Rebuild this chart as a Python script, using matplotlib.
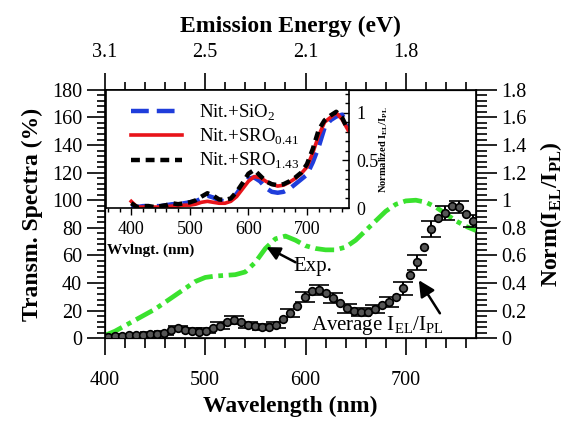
import matplotlib.pyplot as plt
from matplotlib.ticker import MultipleLocator

plt.rcParams['font.family'] = ['Liberation Serif', 'DejaVu Serif']
plt.rcParams['mathtext.fontset'] = 'custom'
plt.rcParams['mathtext.rm'] = 'Liberation Serif'
plt.rcParams['mathtext.bf'] = 'Liberation Serif:bold'

# transmission spectrum (left axis, %)
wl_exp = [400, 410, 420, 430, 440, 450, 460, 470, 480, 490, 500, 510, 520, 530, 540, 550, 560, 570, 580,
          590, 600, 610, 620, 630, 640, 650, 660, 670, 680, 690, 700, 710, 720, 730, 740, 750, 760, 770]
trans_exp = [2, 5, 9, 13, 17, 21, 26, 31, 36, 41, 44, 45, 45.5, 46, 48, 55, 65, 72, 74,
             71, 67, 65, 64, 64, 66, 71, 78, 85, 92, 97, 99.5, 100, 98.5, 95, 90, 85, 81, 78]

# average EL/PL ratio (right axis)
wl_el = [403, 410, 417, 424, 431, 438, 445, 452, 459, 466, 473, 480, 487, 494, 501, 508, 515, 522,
         529, 536, 543, 550, 557, 564, 571, 578, 585, 592, 599, 606, 613, 620, 627, 634, 641, 648,
         655, 662, 669, 676, 683, 690, 697, 704, 711, 718, 725, 732, 739, 746, 753, 760, 767]
ratio_el = [0.01, 0.015, 0.018, 0.02, 0.022, 0.025, 0.03, 0.033, 0.04, 0.06, 0.07, 0.062, 0.055, 0.047,
            0.055, 0.075, 0.09, 0.115, 0.13, 0.12, 0.095, 0.085, 0.08, 0.082, 0.095, 0.14, 0.18, 0.235,
            0.30, 0.345, 0.35, 0.33, 0.29, 0.255, 0.215, 0.195, 0.19, 0.19, 0.21, 0.24, 0.26, 0.30,
            0.36, 0.46, 0.55, 0.66, 0.79, 0.87, 0.91, 0.955, 0.95, 0.90, 0.85]
ratio_err = [0.01, 0.01, 0.01, 0.01, 0.01, 0.01, 0.012, 0.012, 0.015, 0.015, 0.02, 0.02, 0.02, 0.02,
             0.02, 0.02, 0.025, 0.025, 0.03, 0.03, 0.025, 0.02, 0.02, 0.02, 0.02, 0.025, 0.03, 0.03,
             0.035, 0.035, 0.035, 0.035, 0.035, 0.03, 0.03, 0.03, 0.03, 0.03, 0.03, 0.035, 0.035, 0.04,
             0.045, 0.05, 0.055, 0.06, 0.06, 0.055, 0.05, 0.045, 0.045, 0.045, 0.045]

# inset: normalized EL/PL for each sample
wl_in = [400, 410, 420, 430, 440, 450, 460, 470, 480, 490, 500, 510, 520, 530, 540, 550, 560, 570, 580,
         590, 600, 610, 620, 630, 640, 650, 660, 670, 680, 690, 700, 710, 720, 730, 740, 750, 760, 770]
norm_sio2 = [0.02, 0.01, 0.02, 0.02, 0.02, 0.02, 0.03, 0.04, 0.04, 0.05, 0.06, 0.07, 0.10, 0.13, 0.11,
             0.08, 0.07, 0.09, 0.15, 0.24, 0.31, 0.32, 0.28, 0.21, 0.17, 0.16, 0.17, 0.20, 0.25, 0.30,
             0.35, 0.48, 0.64, 0.84, 0.92, 0.96, 0.98, 0.85]
norm_sro041 = [0.07, 0.01, 0.01, 0.01, 0.01, 0.01, 0.015, 0.02, 0.02, 0.03, 0.03, 0.04, 0.06, 0.07, 0.06,
               0.05, 0.05, 0.07, 0.12, 0.20, 0.28, 0.33, 0.32, 0.28, 0.25, 0.23, 0.24, 0.27, 0.31, 0.36,
               0.43, 0.58, 0.76, 0.90, 0.95, 1.00, 0.93, 0.82]
norm_sro143 = [0.05, 0.01, 0.02, 0.02, 0.01, 0.02, 0.03, 0.05, 0.04, 0.05, 0.06, 0.08, 0.12, 0.155, 0.13,
               0.09, 0.085, 0.10, 0.17, 0.26, 0.36, 0.40, 0.34, 0.28, 0.25, 0.24, 0.25, 0.28, 0.32, 0.37,
               0.46, 0.62, 0.82, 0.92, 0.97, 1.01, 0.95, 0.82]

top_ticks = [400, 500, 600, 700]
top_labels = ['3.1', '2.5', '2.1', '1.8']

fig = plt.figure(figsize=(5.64, 4.28), dpi=100)
ax = fig.add_axes([0.186, 0.210, 0.658, 0.580])
ax.plot(wl_exp, trans_exp, color='#3ae22e', lw=3.4, linestyle=(0, (4, 1.2, 1, 1.2)), zorder=3)
ax.set_xlim(400, 770)
ax.set_ylim(0, 180)
ax.yaxis.set_major_locator(MultipleLocator(20))
ax.yaxis.set_minor_locator(MultipleLocator(4))
ax.xaxis.set_major_locator(MultipleLocator(100))
ax.xaxis.set_minor_locator(MultipleLocator(20))
ax.tick_params(which='major', direction='out', length=13, width=1.2, labelsize=14.5)
ax.tick_params(which='minor', direction='out', length=6, width=1.2)
ax.tick_params(axis='x', which='major', length=12, pad=12)
ax.tick_params(axis='x', which='minor', length=7)
ax.set_xlabel('Wavelength (nm)', fontsize=17, fontweight='bold', labelpad=4)
ax.set_ylabel('Transm. Spectra (%)', fontsize=17, fontweight='bold', labelpad=6)
for s in ax.spines.values():
    s.set_linewidth(1.2)

ax2 = ax.twinx()
ax2.errorbar(wl_el, ratio_el, yerr=ratio_err, fmt='o', ms=5.5, mfc='#555555', mec='black', mew=1.2,
             ecolor='black', elinewidth=1.4, capsize=7, capthick=1.4, errorevery=(0, 2), zorder=4)
ax2.set_ylim(0, 1.8)
ax2.yaxis.set_minor_locator(MultipleLocator(0.04))
ax2.set_yticks([0, 0.2, 0.4, 0.6, 0.8, 1, 1.2, 1.4, 1.6, 1.8])
ax2.set_yticklabels(['0', '0.2', '0.4', '0.6', '0.8', '1', '1.2', '1.4', '1.6', '1.8'])
ax2.tick_params(which='major', direction='out', length=15, width=1.2, labelsize=14.5)
ax2.tick_params(which='minor', direction='out', length=8, width=1.2)
ax2.set_ylabel(r'Norm(I$_{\mathbf{EL}}$/I$_{\mathbf{PL}}$)', fontsize=17, fontweight='bold', labelpad=8)

ax3 = ax.twiny()
ax3.set_xlim(ax.get_xlim())
ax3.set_xticks(top_ticks)
ax3.set_xticklabels(top_labels)
ax3.xaxis.set_minor_locator(MultipleLocator(20))
ax3.tick_params(which='major', direction='out', length=12, width=1.2, labelsize=14.5, pad=8)
ax3.tick_params(which='minor', direction='out', length=6, width=1.2)
ax3.set_xlabel('Emission Energy (eV)', fontsize=17, fontweight='bold', labelpad=8)

ax.text(588, 52, 'Exp.', fontsize=15, va='center')
ax.annotate('', xy=(561, 66), xytext=(590, 55),
            arrowprops=dict(arrowstyle='-|>', color='black', lw=1.8, mutation_scale=20, shrinkA=0, shrinkB=0))
ax.text(672, 9.5, r'Average I$_{\mathrm{EL}}$/I$_{\mathrm{PL}}$', fontsize=15, ha='center', va='center')
ax.annotate('', xy=(713, 42), xytext=(734, 18),
            arrowprops=dict(arrowstyle='-|>', color='black', lw=1.8, mutation_scale=24, shrinkA=0, shrinkB=0))

# inset
axi = fig.add_axes([0.188, 0.514, 0.431, 0.276])
axi.set_zorder(10)
axi.plot(wl_in, norm_sio2, color='#1f3ddb', lw=3.2, linestyle=(0, (4, 1.8)), label=r'Nit.+SiO$_2$')
axi.plot(wl_in, norm_sro041, color='#e8141a', lw=2.6, label=r'Nit.+SRO$_{0.41}$')
axi.plot(wl_in, norm_sro143, color='black', lw=3.2, linestyle=(0, (2, 1.3)), label=r'Nit.+SRO$_{1.43}$')
axi.set_xlim(357, 772)
axi.set_ylim(0, 1.24)
axi.yaxis.tick_right()
axi.set_yticks([0, 0.5, 1])
axi.set_yticklabels(['0', '0.5', '1'])
axi.yaxis.set_minor_locator(MultipleLocator(0.1))
axi.xaxis.set_major_locator(MultipleLocator(100))
axi.xaxis.set_minor_locator(MultipleLocator(20))
axi.tick_params(axis='y', which='major', direction='in', length=5, width=1, labelsize=13, pad=5)
axi.tick_params(axis='y', which='minor', direction='in', length=3, width=1)
axi.tick_params(axis='x', which='major', direction='out', length=5, width=1, labelsize=13, pad=4)
axi.tick_params(axis='x', which='minor', direction='out', length=3, width=1)
for s in axi.spines.values():
    s.set_linewidth(1.2)
axi.legend(loc='upper left', frameon=False, fontsize=13.5, handlelength=2.7, borderaxespad=0.3,
           labelspacing=0.2, handletextpad=0.9, bbox_to_anchor=(0.05, 1.0))
fig.text(0.190, 0.416, 'Wvlngt. (nm)', fontsize=11, fontweight='bold', va='center')
fig.text(0.680, 0.65, r'Normalized I$_{\mathbf{EL}}$/I$_{\mathbf{PL}}$', fontsize=7.5, fontweight='bold',
         rotation=90, ha='center', va='center')

fig.savefig('out.png', dpi=100)
